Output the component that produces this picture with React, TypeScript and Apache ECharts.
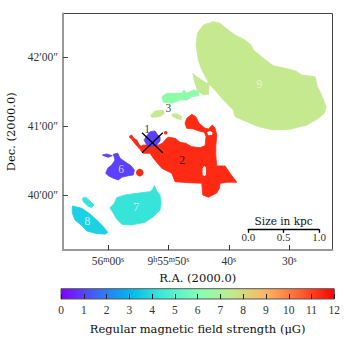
import React, { useEffect, useRef } from "react";
import * as echarts from "echarts";

// Outlines of the regions: [RA seconds past 9h55m, Dec arcsec past 40'00"]
const region9 = [[42.57,151.0],[41.46,149.6],[40.35,144.6],[38.97,139.4],[37.32,135.0],[36.33,130.7],[35.94,126.4],[34.29,119.1],[32.63,112.7],[30.7,110.4],[29.04,108.4],[27.93,104.6],[25.73,103.1],[25.35,94.4],[24.79,88.7],[23.91,77.0],[24.19,71.3],[25.18,67.0],[27.1,61.1],[29.87,57.4],[32.63,56.8],[35.12,59.7],[37.04,64.0],[38.97,68.4],[39.26,74.2],[40.91,82.9],[42.57,93.0],[43.28,96.8],[43.28,95.9],[43.39,87.8],[44.22,87.2],[45.22,91.6],[45.6,97.4],[45.98,106.1],[45.31,103.1],[43.66,97.4],[43.39,98.3],[44.49,109.0],[45.05,117.7],[45.43,130.7],[45.22,140.9],[44.22,148.1]];
const region3a = [[51.11,85.7],[50.28,88.7],[47.8,88.7],[47.42,91.6],[46.97,88.7],[45.88,91.6],[45.05,90.7],[45.05,86.6],[46.14,85.7],[46.97,82.9],[48.08,82.9],[49.45,80.0],[50.84,80.9]];
const patchA = [[52.93,69.8],[52.22,73.3],[50.84,73.9],[50.68,71.3],[51.39,68.4],[52.77,67.8]];
const patchB = [[49.45,70.4],[48.63,71.0],[47.8,68.4],[47.91,65.5],[48.63,67.0],[49.29,68.4]];
const region2 = [[56.41,51.6],[56.08,52.4],[55.75,49.6],[55.2,47.8],[54.87,44.3],[54.54,42.6],[54.16,43.7],[51.67,43.7],[51.01,45.2],[50.28,49.6],[50.02,50.4],[48.91,49.6],[48.08,46.1],[47.14,45.2],[46.14,42.3],[44.77,41.4],[43.94,43.1],[43.78,51.0],[44.06,54.8],[44.93,55.9],[45.88,57.7],[46.97,58.3],[47.25,62.6],[46.97,67.0],[46.14,70.4],[45.48,68.4],[44.93,62.6],[43.94,58.3],[43.39,57.7],[42.73,61.1],[42.28,58.3],[42.0,52.4],[42.17,42.3],[42.17,35.0],[42.0,25.5],[40.63,25.5],[39.8,19.1],[38.69,11.3],[40.35,11.3],[41.46,10.4],[41.57,6.1],[42.0,2.0],[43.39,-1.7],[44.32,0.3],[44.49,10.4],[46.71,11.0],[48.91,11.8],[49.45,19.1],[51.11,23.5],[52.5,32.2],[53.05,36.5],[54.16,36.5],[54.42,37.9],[54.62,39.4],[55.12,42.4],[55.7,45.9],[56.11,49.0],[56.44,50.3]];
const holeUpper = [[43.61,55.0],[43.11,55.9],[42.7,54.6],[42.78,52.4],[43.44,52.2]];
const holeSlit = [[44.11,25.5],[43.78,24.2],[43.78,17.7],[44.11,16.8],[44.35,18.1],[44.35,23.7]];
const region1 = [[54.04,48.1],[53.59,51.8],[53.05,55.3],[52.22,55.9],[51.77,52.4],[51.39,51.0],[51.39,47.2],[51.94,43.7],[52.77,42.3],[53.59,43.7]];
const region6 = [[59.12,35.7],[58.39,36.5],[58.01,32.2],[57.19,29.2],[56.19,25.7],[55.65,22.0],[55.81,17.7],[56.64,17.0],[57.73,15.7],[58.29,13.3],[59.12,14.8],[59.95,17.0],[60.38,19.1],[60.05,23.5],[59.39,26.3],[58.84,30.7]];
const sliver6 = [[60.94,35.0],[60.22,35.9],[59.29,34.4],[59.95,33.0],[60.61,34.2]];
const region7 = [[59.67,-10.8],[58.96,-7.0],[58.56,-2.1],[57.19,0.3],[55.25,1.7],[53.05,3.1],[52.67,4.6],[52.33,8.3],[51.94,3.7],[51.39,0.3],[51.23,-7.0],[51.39,-12.8],[52.5,-18.6],[53.87,-23.5],[56.08,-25.8],[57.73,-25.2],[58.56,-20.6],[59.12,-15.7]];
const region8 = [[65.91,-9.3],[64.35,-11.3],[62.98,-16.3],[61.87,-21.5],[60.78,-27.3],[60.05,-32.2],[60.5,-33.9],[62.15,-33.0],[63.53,-31.0],[64.35,-26.4],[65.46,-21.5],[65.91,-15.7]];
const sliver8 = [[64.25,-2.6],[63.69,-1.7],[62.98,-5.0],[62.32,-8.4],[62.7,-10.8],[63.36,-9.3],[64.09,-5.6]];

const redDots = [[54.75,19.7,7.5],[50.45,54.4,3.5]];
const crossA = [[54.37,54.4],[50.94,37.0]];
const crossB = [[50.94,54.4],[54.37,37.0]];

const regionLabels = [
  ["1",53.54,57.7,"#000"],["2",47.75,30.7,"#000"],["3",50.02,76.2,"#000"],
  ["6",57.85,22.6,"#eef"],["7",55.36,-9.9,"#efffff"],["8",63.43,-22.3,"#efffff"],["9",34.95,96.8,"#f6fbe6"],
];

const raTicks = [60,50,40,30];
const decTicks = [0,60,120];
const decLabels: Record<number,string> = {0:"40′00″",60:"41′00″",120:"42′00″"};
const barTicks = [0,1,2,3,4,5,6,7,8,9,10,11,12];
const sizeTicks = [0,0.5,1];
const rainbow = ["#8000ff","#4062fa","#00b5eb","#40ecd4","#80ffb4","#c0eb8e","#ffb462","#ff6232","#ff0000"];

const shapes: [number[][],string][] = [
  [region9,"#c5e98f"],[region3a,"#8dfbaa"],[patchA,"#c5e98f"],[patchB,"#c5e98f"],
  [region2,"#ff2a14"],[holeUpper,"#fff"],[holeSlit,"#fff"],[region1,"#5c40fb"],
  [region6,"#5c40fb"],[sliver6,"#5c40fb"],[region7,"#37e4d9"],[region8,"#1bd1e3"],[sliver8,"#37e4d9"],
];

const FONT = "Liberation Serif";
const NAME_FONT = "DejaVu Serif";
const INK = "#333";

export default function App() {
  const ref = useRef<HTMLDivElement>(null);
  useEffect(() => {
    document.body.style.margin = "0";
    const chart = echarts.init(ref.current!, undefined, { renderer: "svg" });
    chart.setOption({
      animation: false,
      backgroundColor: "#fff",
      textStyle: { fontFamily: FONT },
      grid: [
        { left: 63, top: 13.5, width: 269.5, height: 236.5, show: true, borderColor: "#444", borderWidth: 1, backgroundColor: "#fff", outerBoundsMode: "none" },
        { left: 61, top: 288.7, width: 273.3, height: 10.3, outerBoundsMode: "none" },
        { left: 248.3, top: 228.3, width: 70.7, height: 1, outerBoundsMode: "none" },
      ],
      xAxis: [
        {
          gridIndex: 0, type: "value", inverse: true, min: 22.85, max: 67.45, z: 5,
          name: "R.A. (2000.0)", nameLocation: "middle", nameGap: 22, nameMoveOverlap: false,
          nameTextStyle: { fontSize: 11.5, color: "#111", fontFamily: NAME_FONT },
          axisLine: { onZero: false, lineStyle: { color: "#999", width: 2 } },
          axisTick: { inside: true, length: 5, customValues: raTicks, lineStyle: { color: "#333", width: 1 } },
          splitLine: { show: false },
          axisLabel: {
            customValues: raTicks, margin: 5, fontFamily: FONT, fontSize: 11.5, color: INK,
            formatter: (v: number) => v === 60 ? "56{s|m}00{s|s}" : v === 50 ? "9{s|h}55{s|m}50{s|s}" : `${v}{s|s}`,
            rich: { s: { fontSize: 8, verticalAlign: "top", lineHeight: 11, color: INK, fontFamily: FONT } },
          },
        },
        {
          gridIndex: 1, type: "value", min: 0, max: 12, interval: 1, z: 10,
          name: "Regular magnetic field strength (μG)", nameLocation: "middle", nameGap: 24, nameMoveOverlap: false,
          nameTextStyle: { fontSize: 11.5, color: "#111", fontFamily: NAME_FONT },
          axisLine: { show: false },
          axisTick: { inside: true, length: 5, customValues: barTicks, lineStyle: { color: "#222", width: 1 } },
          splitLine: { show: false },
          axisLabel: { customValues: barTicks, margin: 5, fontSize: 11.5, color: INK, fontFamily: FONT },
        },
        {
          gridIndex: 2, type: "value", min: 0, max: 1, z: 10,
          axisLine: { onZero: false, lineStyle: { color: "#000", width: 1.3 } },
          axisTick: { length: 3.5, customValues: sizeTicks, lineStyle: { color: "#000", width: 1.3 } },
          splitLine: { show: false },
          axisLabel: { customValues: sizeTicks, margin: 2, fontSize: 11, color: INK, fontFamily: FONT, hideOverlap: false,
            formatter: (v: number) => v.toFixed(1) },
        },
        {
          gridIndex: 2, type: "value", position: "top", min: 0, max: 1,
          name: "Size in kpc", nameLocation: "middle", nameGap: 2, nameMoveOverlap: false,
          nameTextStyle: { fontSize: 10.5, color: "#111", fontFamily: NAME_FONT },
          axisLine: { show: false }, axisTick: { show: false }, axisLabel: { show: false }, splitLine: { show: false },
        },
      ],
      yAxis: [
        {
          gridIndex: 0, type: "value", min: -47.6, max: 158.1, z: 5,
          name: "Dec. (2000.0)", nameLocation: "middle", nameGap: 46, nameMoveOverlap: false,
          nameTextStyle: { fontSize: 11.5, color: "#111", fontFamily: NAME_FONT },
          axisLine: { show: true, onZero: false, lineStyle: { color: "#999", width: 2 } },
          axisTick: { show: true, inside: true, length: 5, customValues: decTicks, lineStyle: { color: "#444", width: 1 } },
          splitLine: { show: false },
          axisLabel: { customValues: decTicks, margin: 5, fontSize: 11.5, color: INK, fontFamily: FONT, formatter: (v: number) => decLabels[v] },
        },
        { gridIndex: 1, type: "value", min: 0, max: 1, show: false },
        { gridIndex: 2, type: "value", min: 0, max: 1, show: false },
      ],
      series: [
        {
          type: "custom", xAxisIndex: 0, yAxisIndex: 0, z: 2,
          data: shapes.map((_, i) => [i]),
          encode: { x: [], y: [] },
          renderItem: (_: any, api: any) => {
            const [pts, color] = shapes[api.value(0)];
            return {
              type: "polygon",
              shape: { points: pts.map((p) => api.coord(p)) },
              style: { fill: color, stroke: color === "#fff" ? "none" : color, lineWidth: 0.8, lineJoin: "round" },
            };
          },
        },
        {
          type: "scatter", xAxisIndex: 0, yAxisIndex: 0, z: 3,
          data: redDots.map((d) => [d[0], d[1]]),
          symbolSize: (_: any, p: any) => redDots[p.dataIndex][2],
          itemStyle: { color: "#ff2a14", opacity: 1 },
        },
        { type: "line", xAxisIndex: 0, yAxisIndex: 0, z: 4, data: crossA, symbol: "none", lineStyle: { color: "#000", width: 1.3 } },
        { type: "line", xAxisIndex: 0, yAxisIndex: 0, z: 4, data: crossB, symbol: "none", lineStyle: { color: "#000", width: 1.3 } },
        {
          type: "scatter", xAxisIndex: 0, yAxisIndex: 0, z: 6, symbolSize: 1,
          itemStyle: { color: "rgba(0,0,0,0)" },
          data: regionLabels.map((l) => ({
            value: [l[1], l[2]],
            label: { show: true, position: "inside", formatter: l[0] as string, fontSize: 11.5, color: l[3] as string, fontFamily: FONT },
          })),
        },
        {
          type: "custom", xAxisIndex: 1, yAxisIndex: 1, z: 2,
          data: [[0, 12]],
          encode: { x: [0, 1] },
          renderItem: (_: any, api: any) => {
            const a = api.coord([api.value(0), 0]);
            const b = api.coord([api.value(1), 1]);
            return {
              type: "rect",
              shape: { x: a[0], y: b[1], width: b[0] - a[0], height: a[1] - b[1] },
              style: {
                fill: new echarts.graphic.LinearGradient(0, 0, 1, 0, rainbow.map((color, i) => ({ offset: i / (rainbow.length - 1), color }))),
                stroke: "#555", lineWidth: 1,
              },
            };
          },
        },
      ],
    });
    return () => chart.dispose();
  }, []);
  return <div ref={ref} style={{ width: 350, height: 340 }} />;
}
